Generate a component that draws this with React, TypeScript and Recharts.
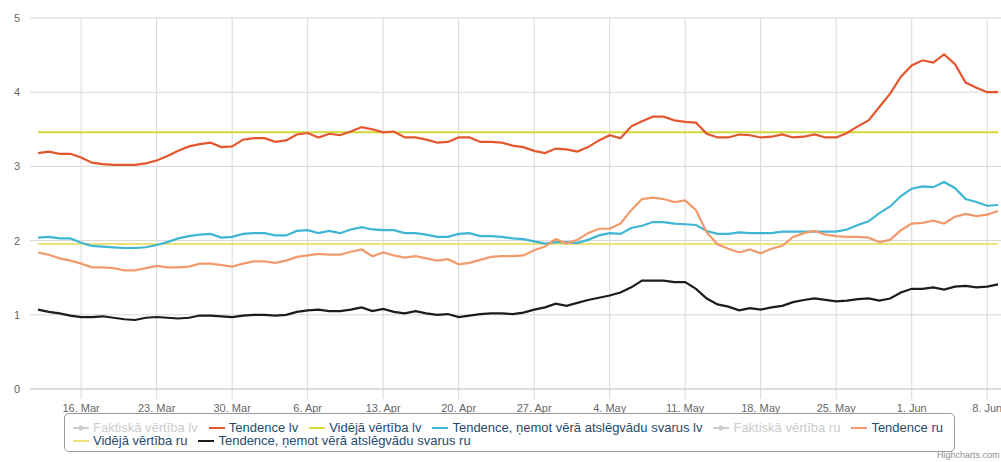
import { LineChart, Line, XAxis, YAxis, CartesianGrid, Legend } from "recharts";

// daily categories, 12 Mar – 9 Jun
const dates = [
  "12. Mar", "13. Mar", "14. Mar", "15. Mar", "16. Mar", "17. Mar", "18. Mar", "19. Mar", "20. Mar", "21. Mar",
  "22. Mar", "23. Mar", "24. Mar", "25. Mar", "26. Mar", "27. Mar", "28. Mar", "29. Mar", "30. Mar", "31. Mar",
  "1. Apr", "2. Apr", "3. Apr", "4. Apr", "5. Apr", "6. Apr", "7. Apr", "8. Apr", "9. Apr", "10. Apr",
  "11. Apr", "12. Apr", "13. Apr", "14. Apr", "15. Apr", "16. Apr", "17. Apr", "18. Apr", "19. Apr", "20. Apr",
  "21. Apr", "22. Apr", "23. Apr", "24. Apr", "25. Apr", "26. Apr", "27. Apr", "28. Apr", "29. Apr", "30. Apr",
  "1. May", "2. May", "3. May", "4. May", "5. May", "6. May", "7. May", "8. May", "9. May", "10. May",
  "11. May", "12. May", "13. May", "14. May", "15. May", "16. May", "17. May", "18. May", "19. May", "20. May",
  "21. May", "22. May", "23. May", "24. May", "25. May", "26. May", "27. May", "28. May", "29. May", "30. May",
  "31. May", "1. Jun", "2. Jun", "3. Jun", "4. Jun", "5. Jun", "6. Jun", "7. Jun", "8. Jun", "9. Jun",
];

const tickLabels = [
  "16. Mar", "23. Mar", "30. Mar", "6. Apr", "13. Apr", "20. Apr", "27. Apr",
  "4. May", "11. May", "18. May", "25. May", "1. Jun", "8. Jun",
];

const tendenceLv = [
  3.18, 3.20, 3.17, 3.17, 3.12, 3.05, 3.03, 3.02, 3.02, 3.02,
  3.04, 3.08, 3.14, 3.21, 3.27, 3.30, 3.32, 3.26, 3.27, 3.36,
  3.38, 3.38, 3.33, 3.35, 3.43, 3.45, 3.39, 3.44, 3.42, 3.47,
  3.53, 3.50, 3.46, 3.47, 3.39, 3.39, 3.36, 3.32, 3.33, 3.39,
  3.39, 3.33, 3.33, 3.32, 3.28, 3.26, 3.21, 3.18, 3.24, 3.23,
  3.20, 3.26, 3.35, 3.42, 3.38, 3.54, 3.61, 3.67, 3.67, 3.62,
  3.60, 3.59, 3.44, 3.39, 3.39, 3.43, 3.42, 3.39, 3.40, 3.43,
  3.39, 3.40, 3.43, 3.39, 3.39, 3.45, 3.54, 3.62, 3.80, 3.98,
  4.21, 4.36, 4.43, 4.40, 4.51, 4.38, 4.13, 4.06, 4.00, 4.00,
];

const svarotaLv = [
  2.04, 2.05, 2.03, 2.03, 1.97, 1.93, 1.92, 1.91, 1.90, 1.90,
  1.91, 1.94, 1.98, 2.03, 2.06, 2.08, 2.09, 2.04, 2.05, 2.09,
  2.10, 2.10, 2.07, 2.07, 2.13, 2.14, 2.10, 2.13, 2.10, 2.15,
  2.18, 2.15, 2.14, 2.14, 2.10, 2.10, 2.08, 2.05, 2.05, 2.09,
  2.10, 2.06, 2.06, 2.05, 2.03, 2.02, 1.99, 1.96, 1.98, 1.98,
  1.97, 2.01, 2.07, 2.10, 2.09, 2.17, 2.20, 2.25, 2.25, 2.23,
  2.22, 2.21, 2.13, 2.09, 2.09, 2.11, 2.10, 2.10, 2.10, 2.12,
  2.12, 2.12, 2.12, 2.12, 2.12, 2.15, 2.21, 2.26, 2.37, 2.46,
  2.60, 2.70, 2.73, 2.72, 2.79, 2.71, 2.56, 2.52, 2.47, 2.48,
];

const tendenceRu = [
  1.84, 1.81, 1.76, 1.73, 1.69, 1.64, 1.64, 1.63, 1.60, 1.60,
  1.63, 1.66, 1.64, 1.64, 1.65, 1.69, 1.69, 1.67, 1.65, 1.69,
  1.72, 1.72, 1.70, 1.73, 1.78, 1.80, 1.82, 1.81, 1.81, 1.85,
  1.88, 1.79, 1.84, 1.80, 1.77, 1.79, 1.76, 1.73, 1.75, 1.68,
  1.70, 1.74, 1.78, 1.79, 1.79, 1.80, 1.87, 1.92, 2.02, 1.96,
  2.01, 2.10, 2.16, 2.16, 2.23, 2.41, 2.56, 2.58, 2.56, 2.52,
  2.54, 2.41, 2.11, 1.95, 1.89, 1.84, 1.88, 1.83, 1.89, 1.93,
  2.05, 2.10, 2.13, 2.08, 2.06, 2.05, 2.05, 2.04, 1.98, 2.01,
  2.14, 2.23, 2.24, 2.27, 2.23, 2.32, 2.36, 2.33, 2.35, 2.40,
];

const svarotaRu = [
  1.07, 1.04, 1.02, 0.99, 0.97, 0.97, 0.98, 0.96, 0.94, 0.93,
  0.96, 0.97, 0.96, 0.95, 0.96, 0.99, 0.99, 0.98, 0.97, 0.99,
  1.00, 1.00, 0.99, 1.00, 1.04, 1.06, 1.07, 1.05, 1.05, 1.07,
  1.10, 1.05, 1.08, 1.04, 1.02, 1.05, 1.02, 1.00, 1.01, 0.97,
  0.99, 1.01, 1.02, 1.02, 1.01, 1.03, 1.07, 1.10, 1.15, 1.12,
  1.16, 1.20, 1.23, 1.26, 1.30, 1.37, 1.46, 1.46, 1.46, 1.44,
  1.44, 1.35, 1.22, 1.14, 1.11, 1.06, 1.09, 1.07, 1.10, 1.12,
  1.17, 1.20, 1.22, 1.20, 1.18, 1.19, 1.21, 1.22, 1.19, 1.22,
  1.30, 1.35, 1.35, 1.37, 1.34, 1.38, 1.39, 1.37, 1.38, 1.41,
];

// period averages (flat lines)
const videjaLv = 3.46;
const videjaRu = 1.955;

const colors = {
  tendLv: "#e4572e",
  avgLv: "#d5d838",
  svarLv: "#3db5d3",
  tendRu: "#f29a6c",
  avgRu: "#ece17a",
  svarRu: "#1c1c1c",
  hidden: "#cccccc",
  grid: "#d8d8d8",
  label: "#666666",
  legendText: "#274b6d",
};

const legendRows = [
  [
    { name: "Faktiskā vērtība lv", color: colors.hidden, hidden: true },
    { name: "Tendence lv", color: colors.tendLv },
    { name: "Vidējā vērtība lv", color: colors.avgLv },
    { name: "Tendence, ņemot vērā atslēgvādu svarus lv", color: colors.svarLv },
    { name: "Faktiskā vērtība ru", color: colors.hidden, hidden: true },
    { name: "Tendence ru", color: colors.tendRu },
  ],
  [
    { name: "Vidējā vērtība ru", color: colors.avgRu },
    { name: "Tendence, ņemot vērā atslēgvādu svarus ru", color: colors.svarRu },
  ],
];

const data = dates.map((date, i) => ({
  date,
  tendenceLv: tendenceLv[i],
  videjaLv,
  svarotaLv: svarotaLv[i],
  tendenceRu: tendenceRu[i],
  videjaRu,
  svarotaRu: svarotaRu[i],
}));

function LegendBox() {
  return (
    <div
      style={{
        boxSizing: "border-box",
        width: "100%",
        height: "100%",
        border: "1px solid #9a9a9a",
        borderRadius: 5,
        padding: "7px 8px",
        fontFamily: "'Liberation Sans', Arial, sans-serif",
        fontSize: 13,
        lineHeight: "13px",
      }}
    >
      {legendRows.map((row, r) => (
        <div key={r} style={{ display: "flex", whiteSpace: "nowrap" }}>
          {row.map((item) => (
            <span
              key={item.name}
              style={{ display: "inline-flex", alignItems: "center", marginRight: 11 }}
            >
              <svg width={16} height={10} style={{ marginRight: 4 }}>
                <line x1={0} x2={16} y1={5} y2={5} stroke={item.color} strokeWidth={2} />
                {item.hidden && <circle cx={8} cy={5} r={2.5} fill={item.color} />}
              </svg>
              <span style={{ color: item.hidden ? colors.hidden : colors.legendText }}>
                {item.name}
              </span>
            </span>
          ))}
        </div>
      ))}
    </div>
  );
}

export default function App() {
  const font = "'Liberation Sans', Arial, sans-serif";
  return (
    <div style={{ position: "absolute", left: 0, top: 0, width: 1001, height: 462, background: "#fff" }}>
      <LineChart
        width={1001}
        height={462}
        data={data}
        margin={{ top: 18, right: 0, bottom: 43, left: 0 }}
        style={{ fontFamily: font }}
      >
        <CartesianGrid stroke={colors.grid} strokeWidth={1} syncWithTicks />
        <XAxis
          dataKey="date"
          ticks={tickLabels}
          interval={0}
          padding={{ left: 8, right: 3 }}
          tickSize={10}
          tickMargin={5}
          tick={{ fill: colors.label, fontSize: 11 }}
          tickLine={{ stroke: colors.grid }}
          axisLine={{ stroke: "#cfcfcf" }}
        />
        <YAxis
          domain={[0, 5]}
          ticks={[0, 1, 2, 3, 4, 5]}
          width={30}
          tickSize={6}
          tickMargin={4}
          axisLine={false}
          tickLine={false}
          tick={{ fill: colors.label, fontSize: 11 }}
        />
        <Legend
          layout="horizontal"
          verticalAlign="middle"
          align="center"
          content={() => <LegendBox />}
          wrapperStyle={{ left: 64, top: 413, width: 891, height: 39 }}
        />
        <Line type="linear" dataKey="videjaLv" name="Vidējā vērtība lv" stroke={colors.avgLv} strokeWidth={2} dot={false} isAnimationActive={false} />
        <Line type="linear" dataKey="videjaRu" name="Vidējā vērtība ru" stroke={colors.avgRu} strokeWidth={2} dot={false} isAnimationActive={false} />
        <Line type="linear" dataKey="tendenceLv" name="Tendence lv" stroke={colors.tendLv} strokeWidth={2.2} dot={false} isAnimationActive={false} />
        <Line type="linear" dataKey="svarotaLv" name="Tendence, ņemot vērā atslēgvādu svarus lv" stroke={colors.svarLv} strokeWidth={2.2} dot={false} isAnimationActive={false} />
        <Line type="linear" dataKey="tendenceRu" name="Tendence ru" stroke={colors.tendRu} strokeWidth={2.2} dot={false} isAnimationActive={false} />
        <Line type="linear" dataKey="svarotaRu" name="Tendence, ņemot vērā atslēgvādu svarus ru" stroke={colors.svarRu} strokeWidth={2.2} dot={false} isAnimationActive={false} />
      </LineChart>
      <span
        style={{
          position: "absolute",
          left: 937,
          top: 450,
          fontFamily: font,
          fontSize: 9,
          color: "#909090",
          whiteSpace: "nowrap",
        }}
      >
        Highcharts.com
      </span>
    </div>
  );
}
